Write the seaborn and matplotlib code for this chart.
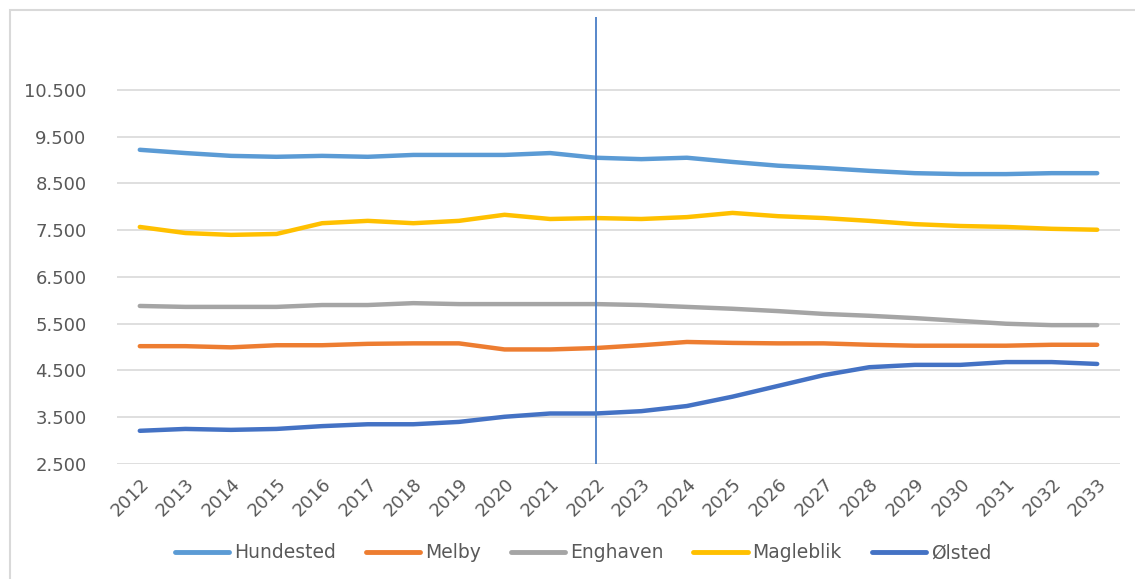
import matplotlib
matplotlib.use("Agg")
import matplotlib.pyplot as plt
from matplotlib.ticker import FuncFormatter, FixedLocator
from matplotlib.patches import Rectangle
import seaborn as sns
import pandas as pd

years = list(range(2012, 2034))
hundested = [9220, 9150, 9090, 9070, 9090, 9070, 9110, 9110, 9110, 9150, 9050,
             9020, 9050, 8960, 8880, 8830, 8770, 8720, 8700, 8700, 8720, 8720]
melby = [5020, 5020, 4995, 5040, 5040, 5070, 5080, 5080, 4950, 4950, 4980,
         5040, 5110, 5090, 5080, 5080, 5050, 5030, 5030, 5030, 5050, 5050]
enghaven = [5880, 5860, 5860, 5860, 5900, 5900, 5940, 5920, 5920, 5920, 5920,
            5900, 5860, 5820, 5770, 5710, 5670, 5620, 5560, 5500, 5470, 5470]
magleblik = [7570, 7440, 7400, 7420, 7650, 7700, 7650, 7700, 7830, 7740, 7760,
             7740, 7780, 7870, 7800, 7760, 7700, 7630, 7590, 7570, 7530, 7510]
olsted = [3210, 3250, 3230, 3250, 3310, 3350, 3350, 3400, 3510, 3580, 3580,
          3630, 3740, 3940, 4170, 4400, 4570, 4620, 4620, 4680, 4680, 4640]

series_names = ["Hundested", "Melby", "Enghaven", "Magleblik", "Ølsted"]
series_values = [hundested, melby, enghaven, magleblik, olsted]
colors = ["#5B9BD5", "#ED7D31", "#A5A5A5", "#FFC000", "#4472C4"]
y_ticks = [2500, 3500, 4500, 5500, 6500, 7500, 8500, 9500, 10500]
marker_year = 2022

rows = []
for name, vals in zip(series_names, series_values):
    for i, v in enumerate(vals):
        rows.append({"idx": i, "year": years[i], "value": v, "series": name})
df = pd.DataFrame(rows)

sns.set_theme(style="white")
plt.rcParams["font.family"] = ["DejaVu Sans"]

fig = plt.figure(figsize=(11.35, 5.79), dpi=100)
ax = fig.add_axes([117 / 1135, 1 - 464 / 579, (1120 - 117) / 1135, (464 - 17) / 579])

sns.lineplot(data=df, x="idx", y="value", hue="series", hue_order=series_names,
             palette=colors, linewidth=3.2, ax=ax, legend=True, sort=False)
for ln in ax.get_lines():
    ln.set_solid_capstyle("round")
    ln.set_solid_joinstyle("round")

ax.set_xlim(-0.5, len(years) - 0.5)
ax.set_ylim(2500, 12060)
ax.yaxis.set_major_locator(FixedLocator(y_ticks))
ax.yaxis.set_major_formatter(FuncFormatter(lambda v, p: f"{int(v):,}".replace(",", ".")))
ax.set_xticks(range(len(years)))
ax.set_xticklabels([str(y) for y in years], rotation=45, ha="right",
                   rotation_mode="anchor")
ax.tick_params(axis="x", length=0, pad=8, labelsize=13, labelcolor="#595959")
ax.tick_params(axis="y", length=0, pad=22, labelsize=13, labelcolor="#595959")
ax.grid(axis="y", color="#D9D9D9", linewidth=1.2)
ax.set_axisbelow(True)
for s in ax.spines.values():
    s.set_visible(False)
ax.set_xlabel("")
ax.set_ylabel("")

ax.axvline(years.index(marker_year), ymin=0, ymax=1, color="#4A7EC6", linewidth=1.3)

handles, labels = ax.get_legend_handles_labels()
ax.legend_.remove()
for h in handles:
    h.set_linewidth(3.5)
fig.legend(handles, labels, loc="center", bbox_to_anchor=(583 / 1135, 1 - 553 / 579),
           ncol=5, frameon=False, fontsize=13.5, handlelength=2.9,
           handletextpad=0.25, columnspacing=1.6, labelcolor="#595959")

fig.patches.append(Rectangle((10 / 1135, -0.1), 1.2, 1 - 10 / 579 + 0.1,
                             transform=fig.transFigure, fill=False,
                             edgecolor="#D9D9D9", linewidth=1.5))

fig.savefig("out.png", dpi=100, facecolor="white")
